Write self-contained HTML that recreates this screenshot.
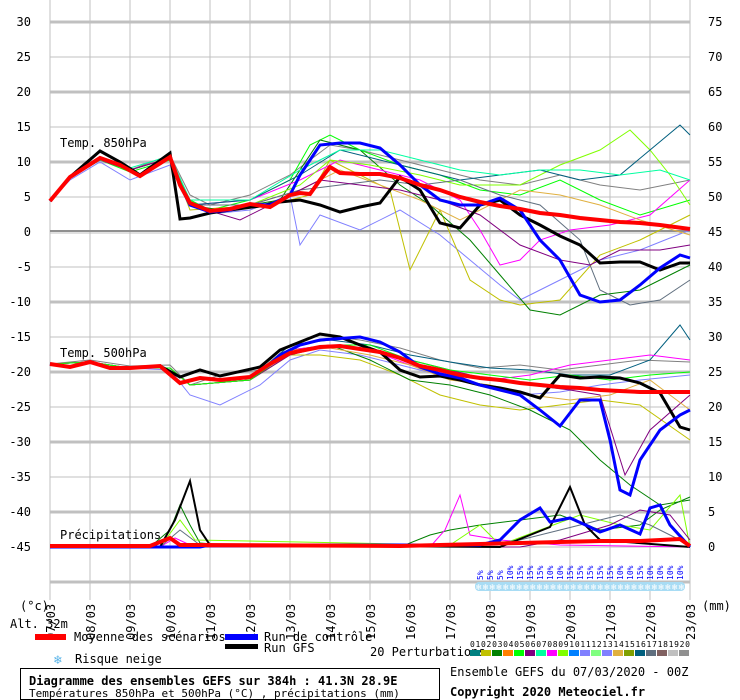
<!DOCTYPE html>
<html><head><meta charset="utf-8"><style>
body{margin:0;background:#fff;}
svg{display:block;font-family:"DejaVu Sans Mono","Liberation Mono",monospace;}
</style></head><body>
<svg width="740" height="700" viewBox="0 0 740 700" xmlns="http://www.w3.org/2000/svg">
<rect width="740" height="700" fill="#fff"/>
<g stroke="#c0c0c0" stroke-width="1">
<line x1="50" y1="0" x2="50" y2="600"/><line x1="90" y1="0" x2="90" y2="600"/><line x1="130" y1="0" x2="130" y2="600"/><line x1="170" y1="0" x2="170" y2="600"/><line x1="210" y1="0" x2="210" y2="600"/><line x1="250" y1="0" x2="250" y2="600"/><line x1="290" y1="0" x2="290" y2="600"/><line x1="330" y1="0" x2="330" y2="600"/><line x1="370" y1="0" x2="370" y2="600"/><line x1="410" y1="0" x2="410" y2="600"/><line x1="450" y1="0" x2="450" y2="600"/><line x1="490" y1="0" x2="490" y2="600"/><line x1="530" y1="0" x2="530" y2="600"/><line x1="570" y1="0" x2="570" y2="600"/><line x1="610" y1="0" x2="610" y2="600"/><line x1="650" y1="0" x2="650" y2="600"/><line x1="690" y1="0" x2="690" y2="600"/>
<line x1="50" y1="57" x2="690" y2="57"/><line x1="50" y1="127" x2="690" y2="127"/><line x1="50" y1="197" x2="690" y2="197"/><line x1="50" y1="267" x2="690" y2="267"/><line x1="50" y1="337" x2="690" y2="337"/><line x1="50" y1="407" x2="690" y2="407"/><line x1="50" y1="477" x2="690" y2="477"/><line x1="50" y1="547" x2="690" y2="547"/>
</g>
<g stroke="#c0c0c0" stroke-width="3">
<line x1="50" y1="22" x2="690" y2="22"/><line x1="50" y1="92" x2="690" y2="92"/><line x1="50" y1="162" x2="690" y2="162"/><line x1="50" y1="302" x2="690" y2="302"/><line x1="50" y1="372" x2="690" y2="372"/><line x1="50" y1="442" x2="690" y2="442"/><line x1="50" y1="512" x2="690" y2="512"/><line x1="50" y1="582" x2="690" y2="582"/>
</g>
<line x1="50" y1="231" x2="690" y2="231" stroke="#909090" stroke-width="2"/>
<line x1="50" y1="233" x2="690" y2="233" stroke="#c0c0c0" stroke-width="1"/>
<g font-size="12" fill="#000" text-anchor="end">
<text x="31" y="26">30</text><text x="31" y="61">25</text><text x="31" y="96">20</text><text x="31" y="131">15</text><text x="31" y="166">10</text><text x="31" y="201">5</text><text x="31" y="236">0</text><text x="31" y="271">-5</text><text x="31" y="306">-10</text><text x="31" y="341">-15</text><text x="31" y="376">-20</text><text x="31" y="411">-25</text><text x="31" y="446">-30</text><text x="31" y="481">-35</text><text x="31" y="516">-40</text><text x="31" y="551">-45</text>
</g>
<g font-size="12" fill="#000">
<text x="708" y="26">75</text><text x="708" y="61">70</text><text x="708" y="96">65</text><text x="708" y="131">60</text><text x="708" y="166">55</text><text x="708" y="201">50</text><text x="708" y="236">45</text><text x="708" y="271">40</text><text x="708" y="306">35</text><text x="708" y="341">30</text><text x="708" y="376">25</text><text x="708" y="411">20</text><text x="708" y="446">15</text><text x="708" y="481">10</text><text x="708" y="516">5</text><text x="708" y="551">0</text>
<text x="60" y="147">Temp. 850hPa</text>
<text x="60" y="357">Temp. 500hPa</text>
<text x="60" y="539">Précipitations</text>
</g>
<g fill="none" stroke-width="1">
<polyline stroke="#808080" points="50,201 70,178 100,160 130,170 170,155 190,195 210,205 250,195 290,175 310,160 330,145 360,150 400,160 440,170 480,180 520,185 560,175 600,185 640,190 690,180"/>
<polyline stroke="#00ff00" points="50,201 70,178 100,160 130,172 170,160 190,200 210,210 250,200 290,180 310,145 330,135 360,150 400,165 440,175 480,190 520,195 560,180 600,200 640,215 690,200"/>
<polyline stroke="#8080ff" points="50,201 70,180 100,162 130,180 170,165 190,205 220,213 250,210 290,195 300,245 320,215 360,230 400,210 440,235 470,260 500,285 520,300 560,280 600,260 640,250 690,230"/>
<polyline stroke="#c0c000" points="50,201 70,178 100,160 130,170 170,158 190,210 220,208 270,205 310,195 330,160 360,175 390,190 410,270 440,210 470,280 500,300 520,305 560,300 600,255 640,240 690,215"/>
<polyline stroke="#008000" points="50,201 70,178 100,160 130,170 170,158 190,205 220,210 280,200 320,140 360,150 400,185 430,205 470,240 500,275 530,310 560,315 600,295 640,290 690,265"/>
<polyline stroke="#ff00ff" points="50,201 70,178 100,160 130,170 170,158 190,205 250,200 300,180 340,160 380,170 420,180 460,200 480,230 500,265 520,260 540,240 570,230 610,225 650,215 690,180"/>
<polyline stroke="#80ff00" points="50,201 70,178 100,160 130,170 170,158 190,205 250,205 300,185 330,160 370,165 420,175 460,185 520,185 560,165 600,150 630,130 650,150 670,175 690,205"/>
<polyline stroke="#005f7f" points="50,201 70,178 100,160 130,170 170,158 190,205 250,200 300,175 340,150 380,160 420,170 460,180 500,175 540,170 580,180 620,175 650,150 680,125 690,135"/>
<polyline stroke="#e0b040" points="50,201 70,178 100,160 130,170 170,158 190,205 250,205 300,190 340,170 380,185 420,200 460,220 480,210 520,190 560,195 600,205 640,220 690,235"/>
<polyline stroke="#606f7f" points="50,201 70,178 100,160 130,170 170,158 190,205 250,205 300,190 340,185 380,180 420,185 460,180 500,195 540,205 580,240 600,290 630,305 660,300 690,280"/>
<polyline stroke="#800080" points="50,201 70,178 100,160 130,170 170,158 190,205 240,220 280,200 320,180 360,185 400,190 440,200 480,215 520,245 560,260 590,265 620,250 660,250 690,245"/>
<polyline stroke="#00ffa0" points="50,201 70,178 100,160 130,168 170,156 190,200 250,200 300,170 340,150 380,150 420,160 460,170 500,175 540,170 580,170 620,175 660,170 690,180"/>
</g>
<g fill="none" stroke-width="1">
<polyline stroke="#808080" points="50,364 90,360 130,366 170,365 190,385 220,375 260,370 290,345 320,335 360,340 400,348 440,360 480,368 520,365 560,370 600,365 640,360 690,362"/>
<polyline stroke="#8080ff" points="50,364 90,362 130,368 170,370 190,395 220,405 260,385 290,360 320,350 360,355 400,365 440,375 480,385 520,395 560,392 600,385 640,380 690,375"/>
<polyline stroke="#c0c000" points="50,364 90,362 130,368 170,368 190,385 250,380 290,355 320,355 360,360 400,375 440,395 480,405 520,410 560,405 600,400 640,405 690,440"/>
<polyline stroke="#008000" points="50,364 90,362 130,368 170,368 190,385 250,380 290,350 330,345 370,360 410,380 450,385 490,395 530,410 570,430 600,460 630,485 660,505 690,500"/>
<polyline stroke="#005f7f" points="50,364 90,362 130,368 170,368 190,385 250,380 290,345 330,340 370,345 410,355 450,362 490,368 530,370 570,375 610,375 650,360 680,325 690,340"/>
<polyline stroke="#800080" points="50,364 90,362 130,368 170,368 190,385 250,380 290,355 330,345 370,350 410,360 450,370 490,380 530,385 570,390 600,395 625,475 650,430 690,395"/>
<polyline stroke="#ff00ff" points="50,364 90,362 130,368 170,368 190,385 250,380 290,350 330,345 370,350 410,365 450,375 490,380 530,375 570,365 610,360 650,355 690,360"/>
<polyline stroke="#e0b040" points="50,364 90,362 130,368 170,368 190,385 250,380 290,350 330,348 370,355 410,365 450,380 490,385 530,395 570,400 610,395 650,380 690,410"/>
<polyline stroke="#00ff00" points="50,364 90,362 130,368 170,368 190,385 250,380 290,352 330,345 370,345 410,360 450,370 490,375 530,380 570,375 610,380 650,375 690,372"/>
</g>
<g fill="none" stroke-width="1">
<polyline stroke="#008000" points="50,547 150,547 170,530 180,505 190,525 200,543 250,547 400,547 430,535 450,530 480,525 520,520 560,515 600,530 640,525 660,510 690,497"/>
<polyline stroke="#ff00ff" points="50,547 160,547 175,538 190,545 430,547 445,530 460,495 470,535 500,540 560,545 690,547"/>
<polyline stroke="#80ff00" points="50,547 160,547 180,520 195,540 450,545 480,525 500,545 540,530 580,515 620,525 650,530 680,495 690,547"/>
<polyline stroke="#606f7f" points="50,547 160,547 180,530 200,545 480,545 520,540 560,530 600,520 620,515 650,525 690,545"/>
<polyline stroke="#800080" points="50,547 520,547 560,540 610,525 640,510 670,515 690,540"/>
</g>
<polyline fill="none" stroke="#000" stroke-width="3" points="50,201 70,177 100,151 120,162 140,175 170,153 180,219 190,218 210,213 230,210 260,206 280,202 300,200 320,205 340,212 360,207 380,203 400,177 420,190 440,223 460,228 480,205 500,200 520,215 540,225 560,236 580,245 600,263 620,262 640,262 660,270 680,263 690,263"/>
<polyline fill="none" stroke="#0000ff" stroke-width="3" points="50,201 70,177 100,158 120,165 140,176 170,157 180,185 190,205 210,212 230,210 250,204 270,205 290,195 300,175 320,145 340,143 360,143 380,148 400,165 420,185 440,200 460,205 480,205 500,198 520,210 540,240 560,260 580,295 600,302 620,300 640,285 660,268 680,255 690,258"/>
<polyline fill="none" stroke="#ff0000" stroke-width="4" points="50,201 70,177 100,158 120,165 140,176 170,157 180,185 190,203 210,211 230,209 250,204 270,207 290,195 300,193 310,194 320,180 330,167 340,173 360,174 380,174 400,178 420,185 440,190 460,197 480,202 500,206 520,209 540,213 560,215 580,218 600,220 620,222 640,223 660,225 690,229"/>
<polyline fill="none" stroke="#000" stroke-width="3" points="50,364 70,367 90,362 110,368 130,368 160,366 180,377 200,370 220,376 260,367 280,350 320,334 340,337 360,345 380,352 400,370 420,377 440,376 460,380 480,385 500,388 520,392 540,398 560,375 580,378 600,377 620,378 640,383 660,393 680,427 690,430"/>
<polyline fill="none" stroke="#0000ff" stroke-width="3" points="50,364 70,367 90,362 110,368 130,368 160,366 180,383 200,378 220,380 250,377 270,364 280,355 300,345 320,340 360,337 380,342 400,352 420,367 440,374 460,378 480,385 500,390 520,395 540,410 560,426 580,400 600,400 610,440 620,490 630,495 640,460 660,430 680,415 690,410"/>
<polyline fill="none" stroke="#ff0000" stroke-width="4" points="50,364 70,367 90,362 110,368 130,368 160,366 180,383 200,378 220,380 250,377 270,364 290,353 320,347 340,346 360,349 380,352 400,358 420,366 440,370 460,375 480,378 500,380 520,383 540,385 560,387 580,388 600,390 620,391 640,392 660,392 690,392"/>
<polyline fill="none" stroke="#000" stroke-width="2" points="50,547 160,547 175,520 190,481 200,530 210,545 500,547 530,535 550,527 570,487 585,525 600,540 690,547"/>
<polyline fill="none" stroke="#0000ff" stroke-width="3" points="50,547 200,547 210,545 480,545 500,540 520,520 540,508 550,522 570,518 590,527 600,532 620,525 640,534 650,508 660,505 670,525 690,547"/>
<polyline fill="none" stroke="#ff0000" stroke-width="4" points="50,546 150,546 170,538 180,545 200,545 400,546 440,545 480,544 520,543 560,542 600,541 640,541 680,539 690,546"/>
<rect x="475" y="582" width="210" height="9" rx="4" fill="#a8dcf4"/>
<g fill="#fff" font-size="9"><text x="476" y="590" textLength="208">❄❄❄❄❄❄❄❄❄❄❄❄❄❄❄❄❄❄❄❄❄❄❄❄❄❄❄❄❄❄❄</text></g>
<g font-size="8" fill="#0000ff">
<text transform="translate(483,580) rotate(-90)">5%</text><text transform="translate(493,580) rotate(-90)">5%</text><text transform="translate(503,580) rotate(-90)">5%</text><text transform="translate(513,580) rotate(-90)">10%</text><text transform="translate(523,580) rotate(-90)">15%</text><text transform="translate(533,580) rotate(-90)">15%</text><text transform="translate(543,580) rotate(-90)">15%</text><text transform="translate(553,580) rotate(-90)">10%</text><text transform="translate(563,580) rotate(-90)">10%</text><text transform="translate(573,580) rotate(-90)">15%</text><text transform="translate(583,580) rotate(-90)">15%</text><text transform="translate(593,580) rotate(-90)">15%</text><text transform="translate(603,580) rotate(-90)">15%</text><text transform="translate(613,580) rotate(-90)">15%</text><text transform="translate(623,580) rotate(-90)">10%</text><text transform="translate(633,580) rotate(-90)">10%</text><text transform="translate(643,580) rotate(-90)">15%</text><text transform="translate(653,580) rotate(-90)">10%</text><text transform="translate(663,580) rotate(-90)">10%</text><text transform="translate(673,580) rotate(-90)">10%</text><text transform="translate(683,580) rotate(-90)">10%</text>
</g>
<g font-size="12" fill="#000">
<text x="20" y="610">(°c)</text><text x="702" y="610">(mm)</text>
<text transform="translate(55,640) rotate(-90)">07/03</text><text transform="translate(95,640) rotate(-90)">08/03</text><text transform="translate(135,640) rotate(-90)">09/03</text><text transform="translate(175,640) rotate(-90)">10/03</text><text transform="translate(215,640) rotate(-90)">11/03</text><text transform="translate(255,640) rotate(-90)">12/03</text><text transform="translate(295,640) rotate(-90)">13/03</text><text transform="translate(335,640) rotate(-90)">14/03</text><text transform="translate(375,640) rotate(-90)">15/03</text><text transform="translate(415,640) rotate(-90)">16/03</text><text transform="translate(455,640) rotate(-90)">17/03</text><text transform="translate(495,640) rotate(-90)">18/03</text><text transform="translate(535,640) rotate(-90)">19/03</text><text transform="translate(575,640) rotate(-90)">20/03</text><text transform="translate(615,640) rotate(-90)">21/03</text><text transform="translate(655,640) rotate(-90)">22/03</text><text transform="translate(695,640) rotate(-90)">23/03</text>
<text x="10" y="628">Alt. 32m</text>
<text x="74" y="641">Moyenne des scénarios</text>
<text x="264" y="641">Run de contrôle</text>
<text x="264" y="652">Run GFS</text>
<text x="75" y="663">Risque neige</text>
<text x="370" y="656">20 Perturbations</text>
<text x="450" y="676">Ensemble GEFS du 07/03/2020 - 00Z</text>
<text x="450" y="696" font-weight="bold">Copyright 2020 Meteociel.fr</text>
</g>
<rect x="35" y="634" width="31" height="6" fill="#ff0000"/>
<rect x="225" y="634" width="33" height="6" fill="#0000ff"/>
<rect x="225" y="644" width="33" height="5" fill="#000"/>
<text x="54" y="664" font-size="13" fill="#5ab4e8">❄</text>
<rect x="20.5" y="668.5" width="419" height="31" fill="none" stroke="#000"/>
<text x="29" y="685" font-size="12" font-weight="bold">Diagramme des ensembles GEFS sur 384h : 41.3N 28.9E</text>
<text x="29" y="697" font-size="11">Températures 850hPa et 500hPa (°C) , précipitations (mm)</text>
<g font-size="8" fill="#000"><text x="470" y="647" textLength="220">0102030405060708091011121314151617181920</text></g>
<g>
<rect x="470" y="650" width="10" height="6" fill="#008080"/><rect x="481" y="650" width="10" height="6" fill="#c0c000"/><rect x="492" y="650" width="10" height="6" fill="#008000"/><rect x="503" y="650" width="10" height="6" fill="#ff8000"/><rect x="514" y="650" width="10" height="6" fill="#00ff00"/><rect x="525" y="650" width="10" height="6" fill="#800080"/><rect x="536" y="650" width="10" height="6" fill="#00ffa0"/><rect x="547" y="650" width="10" height="6" fill="#ff00ff"/><rect x="558" y="650" width="10" height="6" fill="#80ff00"/><rect x="569" y="650" width="10" height="6" fill="#0080ff"/><rect x="580" y="650" width="10" height="6" fill="#8080ff"/><rect x="591" y="650" width="10" height="6" fill="#80ff80"/><rect x="602" y="650" width="10" height="6" fill="#8080ff"/><rect x="613" y="650" width="10" height="6" fill="#e0b040"/><rect x="624" y="650" width="10" height="6" fill="#80a000"/><rect x="635" y="650" width="10" height="6" fill="#005f7f"/><rect x="646" y="650" width="10" height="6" fill="#606f7f"/><rect x="657" y="650" width="10" height="6" fill="#806060"/><rect x="668" y="650" width="10" height="6" fill="#c0c0c0"/><rect x="679" y="650" width="10" height="6" fill="#909090"/>
</g>
</svg>
</body></html>
